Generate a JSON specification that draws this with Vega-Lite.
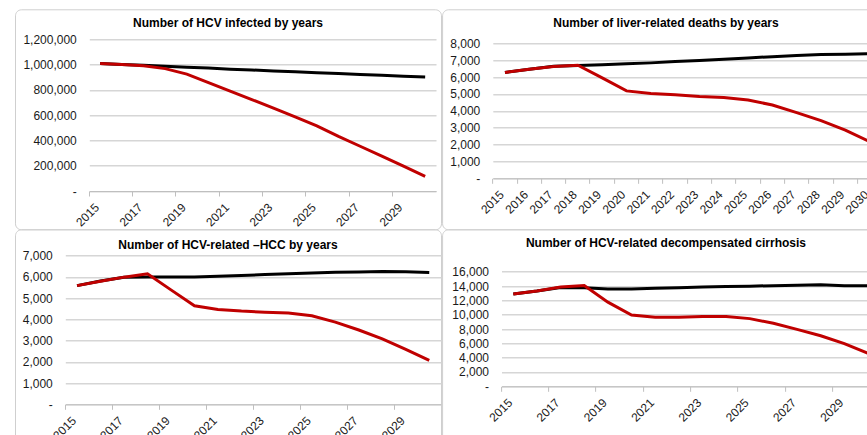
{
  "$schema": "https://vega.github.io/schema/vega-lite/v6.json",
  "background": "white",
  "padding": {"left": 14, "top": 8.3, "right": -23, "bottom": -10.3},
  "datasets": {
    "p1": [
      {"year": 2015, "base": 1008000, "elim": 1008000},
      {"year": 2016, "base": 1001000, "elim": 1000000},
      {"year": 2017, "base": 994000, "elim": 990000},
      {"year": 2018, "base": 986000, "elim": 968000},
      {"year": 2019, "base": 979000, "elim": 925000},
      {"year": 2020, "base": 972000, "elim": 858000},
      {"year": 2021, "base": 964000, "elim": 790000},
      {"year": 2022, "base": 957000, "elim": 723000},
      {"year": 2023, "base": 950000, "elim": 655000},
      {"year": 2024, "base": 943000, "elim": 587000},
      {"year": 2025, "base": 936000, "elim": 515000},
      {"year": 2026, "base": 929000, "elim": 432000},
      {"year": 2027, "base": 922000, "elim": 354000},
      {"year": 2028, "base": 915000, "elim": 275000},
      {"year": 2029, "base": 908000, "elim": 196000},
      {"year": 2030, "base": 901000, "elim": 115000}
    ],
    "p2": [
      {"year": 2015, "base": 6270, "elim": 6270},
      {"year": 2016, "base": 6460, "elim": 6460},
      {"year": 2017, "base": 6640, "elim": 6630},
      {"year": 2018, "base": 6680, "elim": 6700},
      {"year": 2019, "base": 6730, "elim": 5950},
      {"year": 2020, "base": 6790, "elim": 5180},
      {"year": 2021, "base": 6840, "elim": 5030},
      {"year": 2022, "base": 6920, "elim": 4950},
      {"year": 2023, "base": 6980, "elim": 4850},
      {"year": 2024, "base": 7060, "elim": 4790},
      {"year": 2025, "base": 7130, "elim": 4640},
      {"year": 2026, "base": 7210, "elim": 4340},
      {"year": 2027, "base": 7270, "elim": 3890},
      {"year": 2028, "base": 7330, "elim": 3420},
      {"year": 2029, "base": 7350, "elim": 2860},
      {"year": 2030, "base": 7390, "elim": 2170}
    ],
    "p3": [
      {"year": 2015, "base": 5590, "elim": 5590},
      {"year": 2016, "base": 5810, "elim": 5800},
      {"year": 2017, "base": 5980, "elim": 5990},
      {"year": 2018, "base": 6000, "elim": 6150},
      {"year": 2019, "base": 6000, "elim": 5390},
      {"year": 2020, "base": 6000, "elim": 4640},
      {"year": 2021, "base": 6030, "elim": 4470},
      {"year": 2022, "base": 6070, "elim": 4390},
      {"year": 2023, "base": 6110, "elim": 4340},
      {"year": 2024, "base": 6150, "elim": 4300},
      {"year": 2025, "base": 6180, "elim": 4170},
      {"year": 2026, "base": 6220, "elim": 3870},
      {"year": 2027, "base": 6230, "elim": 3500},
      {"year": 2028, "base": 6260, "elim": 3080},
      {"year": 2029, "base": 6240, "elim": 2590},
      {"year": 2030, "base": 6210, "elim": 2070}
    ],
    "p4": [
      {"year": 2015, "base": 12900, "elim": 12900},
      {"year": 2016, "base": 13300, "elim": 13300},
      {"year": 2017, "base": 13800, "elim": 13850},
      {"year": 2018, "base": 13750, "elim": 14070},
      {"year": 2019, "base": 13600, "elim": 11750},
      {"year": 2020, "base": 13600, "elim": 9950},
      {"year": 2021, "base": 13700, "elim": 9650},
      {"year": 2022, "base": 13750, "elim": 9650},
      {"year": 2023, "base": 13850, "elim": 9750},
      {"year": 2024, "base": 13950, "elim": 9750},
      {"year": 2025, "base": 13980, "elim": 9450},
      {"year": 2026, "base": 14050, "elim": 8800},
      {"year": 2027, "base": 14100, "elim": 7950},
      {"year": 2028, "base": 14170, "elim": 7050},
      {"year": 2029, "base": 14050, "elim": 5950},
      {"year": 2030, "base": 14020, "elim": 4600}
    ]
  },
  "columns": 2,
  "align": "none",
  "spacing": {"row": -2, "column": -0.9},
  "concat": [
    {
      "title": {"text": "Number of HCV infected by years", "offset": -20.2},
      "width": 426, "height": 220,
      "data": {"name": "p1"},
      "encoding": {
        "x": {"field": "year", "type": "ordinal", "title": null,
          "scale": {"type": "band", "paddingInner": 0, "paddingOuter": 0, "range": [74.3, 421]},
          "axis": {"offset": -38.3, "values": [2015, 2017, 2019, 2021, 2023, 2025, 2027, 2029]}}
      },
      "layer": [
        {"mark": {"type": "line", "color": "#000000", "strokeWidth": 3},
         "encoding": {"y": {"field": "base", "type": "quantitative", "title": null,
           "scale": {"domain": [0, 1200000], "range": [181.7, 30]},
           "axis": {"offset": -74.3, "values": [0, 200000, 400000, 600000, 800000, 1000000, 1200000]}}}},
        {"mark": {"type": "line", "color": "#c00000", "strokeWidth": 3},
         "encoding": {"y": {"field": "elim", "type": "quantitative", "title": null,
           "axis": {"offset": -74.3, "values": [0, 200000, 400000, 600000, 800000, 1000000, 1200000]}}}}
      ]
    },
    {
      "title": {"text": "Number of liver-related deaths by years", "offset": -20.2},
      "width": 447.7, "height": 220,
      "data": {"name": "p2"},
      "encoding": {
        "x": {"field": "year", "type": "ordinal", "title": null,
          "scale": {"type": "band", "paddingInner": 0, "paddingOuter": 0, "range": [50.7, 439.7]},
          "axis": {"offset": -51}}
      },
      "layer": [
        {"mark": {"type": "line", "color": "#000000", "strokeWidth": 3},
         "encoding": {"y": {"field": "base", "type": "quantitative", "title": null,
           "scale": {"domain": [0, 8000], "range": [169, 34]},
           "axis": {"offset": -50.7, "values": [0, 1000, 2000, 3000, 4000, 5000, 6000, 7000, 8000]}}}},
        {"mark": {"type": "line", "color": "#c00000", "strokeWidth": 3},
         "encoding": {"y": {"field": "elim", "type": "quantitative", "title": null,
           "axis": {"offset": -50.7, "values": [0, 1000, 2000, 3000, 4000, 5000, 6000, 7000, 8000]}}}}
      ]
    },
    {
      "title": {"text": "Number of HCV-related –HCC by years", "offset": -22.8},
      "width": 426, "height": 216,
      "data": {"name": "p3"},
      "encoding": {
        "x": {"field": "year", "type": "ordinal", "title": null,
          "scale": {"type": "band", "paddingInner": 0, "paddingOuter": 0, "range": [50.3, 426]},
          "axis": {"offset": -41, "values": [2015, 2017, 2019, 2021, 2023, 2025, 2027, 2029]}}
      },
      "layer": [
        {"mark": {"type": "line", "color": "#000000", "strokeWidth": 3},
         "encoding": {"y": {"field": "base", "type": "quantitative", "title": null,
           "scale": {"domain": [0, 7000], "range": [175, 26.4]},
           "axis": {"offset": -50.3, "values": [0, 1000, 2000, 3000, 4000, 5000, 6000, 7000]}}}},
        {"mark": {"type": "line", "color": "#c00000", "strokeWidth": 3},
         "encoding": {"y": {"field": "elim", "type": "quantitative", "title": null,
           "axis": {"offset": -50.3, "values": [0, 1000, 2000, 3000, 4000, 5000, 6000, 7000]}}}}
      ]
    },
    {
      "title": {"text": "Number of HCV-related decompensated cirrhosis", "offset": -20.8},
      "width": 447.7, "height": 216,
      "data": {"name": "p4"},
      "encoding": {
        "x": {"field": "year", "type": "ordinal", "title": null,
          "scale": {"type": "band", "paddingInner": 0, "paddingOuter": 0, "range": [59.4, 437.7]},
          "axis": {"offset": -59, "values": [2015, 2017, 2019, 2021, 2023, 2025, 2027, 2029]}}
      },
      "layer": [
        {"mark": {"type": "line", "color": "#000000", "strokeWidth": 3},
         "encoding": {"y": {"field": "base", "type": "quantitative", "title": null,
           "scale": {"domain": [0, 16000], "range": [157, 42.4]},
           "axis": {"offset": -59.4, "values": [0, 2000, 4000, 6000, 8000, 10000, 12000, 14000, 16000]}}}},
        {"mark": {"type": "line", "color": "#c00000", "strokeWidth": 3},
         "encoding": {"y": {"field": "elim", "type": "quantitative", "title": null,
           "axis": {"offset": -59.4, "values": [0, 2000, 4000, 6000, 8000, 10000, 12000, 14000, 16000]}}}}
      ]
    }
  ],
  "config": {
    "font": "Liberation Sans",
    "view": {"stroke": "#cfcfcf", "strokeWidth": 1, "cornerRadius": 6},
    "title": {"fontSize": 12, "fontWeight": "bold", "color": "#000000", "anchor": "middle", "frame": "bounds"},
    "axisX": {
      "bandPosition": 0, "grid": false, "domainColor": "#bfbfbf", "domainWidth": 1,
      "tickColor": "#bfbfbf", "tickSize": 5, "labelAngle": -45, "labelAlign": "right",
      "labelBaseline": "middle", "labelPadding": 9, "labelOffset": -3, "labelFontSize": 12,
      "labelColor": "#1a1a1a", "labelOverlap": false
    },
    "axisY": {
      "grid": true, "gridColor": "#d6d6d6", "gridWidth": 1.5, "domain": false, "ticks": false,
      "labelPadding": 13, "labelFontSize": 12, "labelColor": "#1a1a1a", "labelOverlap": false,
      "labelExpr": "datum.value === 0 ? '-\u00a0\u00a0' : format(datum.value, ',')"
    }
  }
}
